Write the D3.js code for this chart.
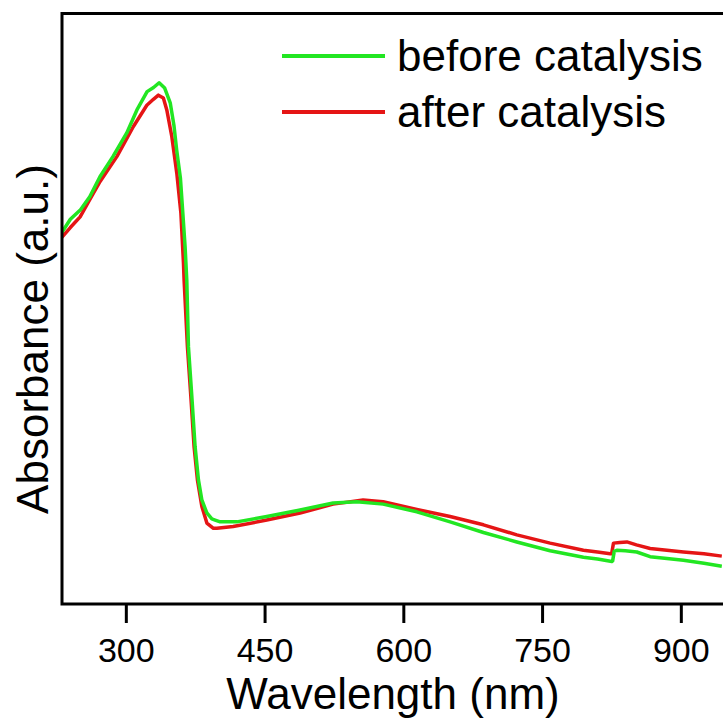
<!DOCTYPE html>
<html>
<head>
<meta charset="utf-8">
<script src="https://cdn.jsdelivr.net/npm/d3@7"></script>
<style>
  html, body { margin: 0; padding: 0; background: #fff; }
  svg { display: block; }
  text { font-family: "Liberation Sans", Arial, sans-serif; fill: #000; }
</style>
</head>
<body>
<svg id="chart" width="723" height="726"></svg>
<script>
// ---- data ----
const xTicks = [300, 450, 600, 750, 900];
const seriesNames = ["before catalysis", "after catalysis"];
const seriesColors = ["#22e622", "#e51515"];

// before catalysis (green): wavelength (nm), absorbance (a.u.)
const beforeWl = [231, 240, 251, 261, 272, 286, 301, 312, 323, 330, 336, 342, 348, 352, 355, 359,
  361.6, 364.1, 365.9, 367.7, 371.4, 374.9, 378.5, 382.2, 387.6, 393, 396.5, 402, 420, 452.4,
  488.4, 524.1, 549.7, 578.2, 614.6, 650.6, 686.6, 722.7, 758.7, 794.7, 810, 825.4, 826.3,
  828, 830.8, 840, 852.4, 866.8, 885, 902.8, 925, 944.3];
const beforeAbs = [0.629, 0.651, 0.667, 0.689, 0.723, 0.757, 0.797, 0.836, 0.867, 0.874, 0.882, 0.873,
  0.848, 0.810, 0.768, 0.721, 0.662, 0.604, 0.548, 0.435, 0.350, 0.266, 0.210, 0.176, 0.154,
  0.144, 0.142, 0.139, 0.139, 0.148, 0.159, 0.171, 0.173, 0.169, 0.156, 0.139, 0.121, 0.105,
  0.090, 0.079, 0.076, 0.072, 0.073, 0.089, 0.091, 0.090, 0.088, 0.080, 0.077, 0.074, 0.069, 0.064];

// after catalysis (red)
const afterWl = [230.1, 240, 250.6, 261, 272.2, 290.3, 308.2, 322.7, 329.8, 335.2, 340.6, 344.3,
  349.7, 355.1, 359.5, 362.3, 363, 366.6, 370.3, 373.8, 377.4, 382.2, 387.6, 394.7, 398.4,
  416, 452.4, 488.4, 524.1, 556.5, 578.2, 614.6, 650.6, 686.6, 722.7, 758.7, 794.7, 810,
  823.6, 825.2, 827.2, 834, 841.7, 852, 866.8, 885, 902.8, 925, 944.3];
const afterAbs = [0.619, 0.637, 0.655, 0.684, 0.715, 0.757, 0.808, 0.844, 0.854, 0.861, 0.856, 0.836,
  0.791, 0.729, 0.662, 0.577, 0.548, 0.435, 0.351, 0.266, 0.210, 0.165, 0.137, 0.128, 0.128,
  0.131, 0.142, 0.154, 0.169, 0.176, 0.173, 0.160, 0.148, 0.134, 0.117, 0.103, 0.091, 0.088,
  0.085, 0.085, 0.103, 0.104, 0.105, 0.100, 0.094, 0.091, 0.088, 0.085, 0.081];

// ---- chart ----
const svg = d3.select("#chart");
const plotLeft = 62, plotTop = 13.5, plotBottom = 604;
const x = d3.scaleLinear().domain([231, 1000]).range([plotLeft, plotLeft + 769 * 0.925]);
const y = d3.scaleLinear().domain([0, 1]).range([plotBottom, 13]);

const line = d3.line().x(d => x(d[0])).y(d => y(d[1]));
const before = beforeWl.map((w, i) => [w, beforeAbs[i]]);
const after = afterWl.map((w, i) => [w, afterAbs[i]]);

svg.append("defs").append("clipPath").attr("id", "clip")
  .append("rect").attr("x", plotLeft).attr("y", plotTop)
  .attr("width", x.range()[1] - plotLeft).attr("height", plotBottom - plotTop);

const g = svg.append("g").attr("clip-path", "url(#clip)");
g.append("path").datum(after).attr("d", line)
  .attr("fill", "none").attr("stroke", seriesColors[1]).attr("stroke-width", 3.5)
  .attr("stroke-linejoin", "round");
g.append("path").datum(before).attr("d", line)
  .attr("fill", "none").attr("stroke", seriesColors[0]).attr("stroke-width", 3.5)
  .attr("stroke-linejoin", "round");

// frame
svg.append("rect")
  .attr("x", plotLeft).attr("y", plotTop)
  .attr("width", x.range()[1] - plotLeft).attr("height", plotBottom - plotTop)
  .attr("fill", "none").attr("stroke", "#000").attr("stroke-width", 3);

// x axis
const xAxis = d3.axisBottom(x).tickValues(xTicks).tickSize(19).tickPadding(15).tickSizeOuter(0);
const ax = svg.append("g").attr("transform", `translate(0,${plotBottom})`).call(xAxis);
ax.select(".domain").remove();
ax.selectAll(".tick line").attr("stroke", "#000").attr("stroke-width", 3);
ax.selectAll(".tick text").attr("font-size", 34)
  .attr("font-family", "Liberation Sans, Arial, sans-serif").attr("fill", "#000");

// axis titles
svg.append("text").attr("x", 393).attr("y", 709).attr("text-anchor", "middle")
  .attr("font-size", 44).text("Wavelength (nm)");
svg.append("text").attr("transform", "translate(48,339) rotate(-90)")
  .attr("text-anchor", "middle").attr("font-size", 44).text("Absorbance (a.u.)");

// legend
const legend = svg.append("g");
seriesNames.forEach((name, i) => {
  const ly = 56 + i * 56;
  legend.append("line").attr("x1", 282).attr("x2", 385).attr("y1", ly).attr("y2", ly)
    .attr("stroke", seriesColors[i]).attr("stroke-width", 4);
  legend.append("text").attr("x", 397).attr("y", ly + 15).attr("font-size", 44).text(name);
});
</script>
</body>
</html>
